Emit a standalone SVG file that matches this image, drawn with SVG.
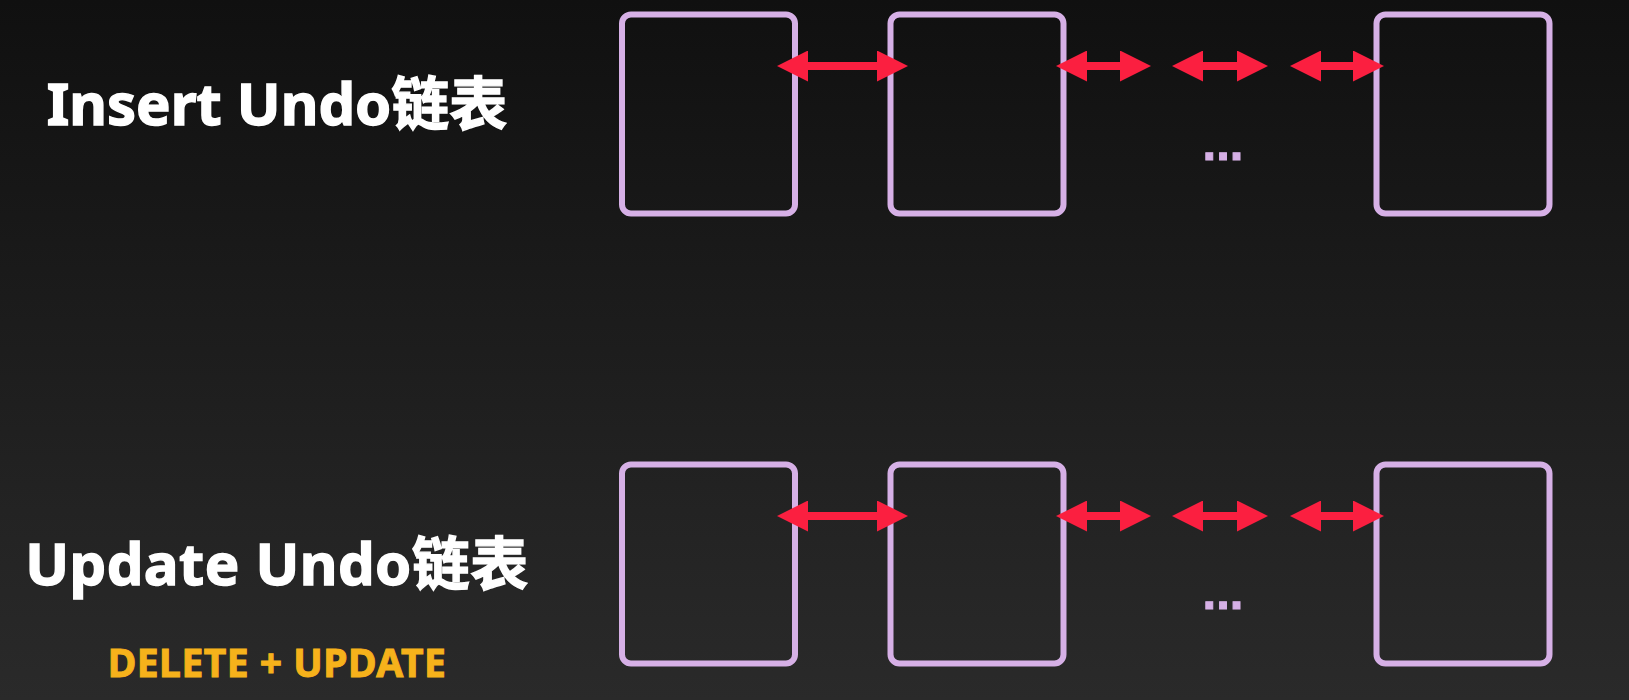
<svg xmlns="http://www.w3.org/2000/svg" width="1629" height="700" viewBox="0 0 1629 700">
  <defs>
    <linearGradient id="bg" x1="0" y1="0" x2="0" y2="1">
      <stop offset="0" stop-color="#101010"/>
      <stop offset="1" stop-color="#2a2a2a"/>
    </linearGradient>
    <marker id="ah" markerUnits="userSpaceOnUse" markerWidth="31" markerHeight="31" viewBox="0 0 31 31" refX="16" refY="15.5" orient="auto-start-reverse">
      <path d="M0,0 L31,15.5 L0,31 Z" fill="#fb1f40"/>
    </marker>
  </defs>
  <style>
    .node { fill: none; stroke: #d6b0e6; stroke-width: 6; }
    .link { stroke: #fb1f40; stroke-width: 8; fill: none; marker-start: url(#ah); marker-end: url(#ah); }
    .title { font-family: "Noto Sans", "Noto Sans CJK SC", sans-serif; font-weight: 700; font-size: 58px; fill: #ffffff; stroke: #ffffff; stroke-width: 1.4; text-anchor: middle; }
    .sub { font-family: "Noto Sans", "Noto Sans CJK SC", sans-serif; font-weight: 700; font-size: 39px; fill: #f6b21b; stroke: #f6b21b; stroke-width: 1; letter-spacing: 0.5px; text-anchor: middle; }
    .dots { font-family: "Liberation Sans", sans-serif; font-weight: 700; font-size: 49px; fill: #d6b0e6; stroke: #d6b0e6; stroke-width: 1; text-anchor: middle; }
  </style>
  <rect width="1629" height="700" fill="url(#bg)"/>

  <g id="label-insert"><text class="title" x="277" y="125">Insert Undo链表</text></g>
  <g id="label-update"><text class="title" x="277" y="585" letter-spacing="0.5">Update Undo链表</text></g>
  <g id="label-update-sub"><text class="sub" x="277" y="677">DELETE + UPDATE</text></g>

  <g id="insert-node-1"><rect class="node" x="622" y="14.5" width="173" height="199" rx="9"/></g>
  <g id="insert-node-2"><rect class="node" x="890.5" y="14.5" width="173" height="199" rx="9"/></g>
  <g id="insert-ellipsis"><text class="dots" x="1223" y="160">...</text></g>
  <g id="insert-node-3"><rect class="node" x="1376.5" y="14.5" width="173" height="199" rx="9"/></g>

  <g id="update-node-1"><rect class="node" x="622" y="464.5" width="173" height="199" rx="9"/></g>
  <g id="update-node-2"><rect class="node" x="890.5" y="464.5" width="173" height="199" rx="9"/></g>
  <g id="update-ellipsis"><text class="dots" x="1223" y="609">...</text></g>
  <g id="update-node-3"><rect class="node" x="1376.5" y="464.5" width="173" height="199" rx="9"/></g>

  <g id="connectors">
    <line class="link" x1="792" y1="66" x2="893" y2="66"/>
    <line class="link" x1="1071" y1="66" x2="1136" y2="66"/>
    <line class="link" x1="1187" y1="66" x2="1253" y2="66"/>
    <line class="link" x1="1305" y1="66" x2="1369" y2="66"/>
    <line class="link" x1="792" y1="516" x2="893" y2="516"/>
    <line class="link" x1="1071" y1="516" x2="1136" y2="516"/>
    <line class="link" x1="1187" y1="516" x2="1253" y2="516"/>
    <line class="link" x1="1305" y1="516" x2="1369" y2="516"/>
  </g>
</svg>
